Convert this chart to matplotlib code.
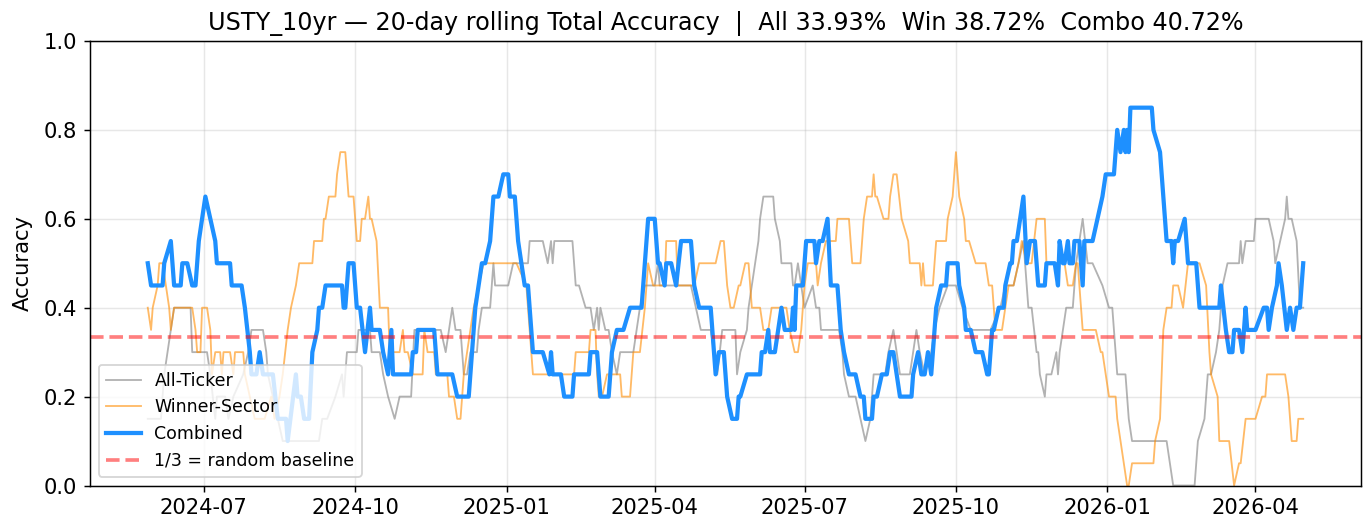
import matplotlib
matplotlib.use("Agg")
import matplotlib.pyplot as plt
import pandas as pd

ANCHOR = "2024-07-01"

# Combined (day offset from ANCHOR, value)
combo_day = [-34,-32,-25,-24,-20,-18,-14,-13,-10,-7,-5,-3,-1,1,4,7,8,16,17,23,25,28,29,32,34,36,42,45,50,51,56,57,59,61,64,66,69,70,72,74,84,85,86,88,91,93,95,98,101,102,107,109,112,114,115,126,127,129,130,140,142,151,154,161,165,167,169,171,174,176,179,182,185,186,189,191,193,195,197,200,206,210,211,212,217,219,224,225,234,235,239,241,246,248,251,255,259,266,270,274,276,277,280,281,284,287,290,296,298,301,308,311,313,316,318,321,324,325,326,330,338,339,341,343,344,347,349,351,353,357,358,359,360,364,366,371,372,374,376,379,381,385,387,389,392,396,399,401,402,406,407,409,412,415,417,419,423,430,431,434,436,438,440,442,445,448,451,452,458,459,462,463,466,469,473,476,477,479,480,483,486,487,490,491,492,494,496,498,500,502,505,507,511,512,517,519,520,522,523,525,526,528,529,532,534,535,540,543,546,548,553,554,555,557,559,560,561,562,563,576,577,581,585,588,589,590,592,596,598,603,605,617,618,621,623,625,626,629,631,633,634,639,644,646,647,649,652,653,655,658,660,662,664,666,668]
combo_val = [.5,.45,.45,.5,.55,.45,.45,.5,.5,.45,.45,.55,.6,.65,.6,.55,.5,.5,.45,.45,.4,.3,.25,.25,.3,.25,.25,.15,.15,.1,.25,.2,.2,.15,.15,.3,.35,.4,.4,.45,.45,.4,.4,.5,.5,.4,.4,.3,.4,.35,.35,.3,.25,.35,.25,.25,.3,.3,.35,.35,.25,.25,.2,.2,.4,.45,.5,.5,.55,.65,.65,.7,.7,.65,.65,.55,.5,.45,.45,.3,.3,.25,.3,.25,.25,.2,.2,.25,.25,.3,.3,.2,.2,.3,.35,.35,.4,.4,.6,.6,.5,.5,.45,.5,.5,.45,.55,.55,.45,.4,.4,.25,.3,.3,.2,.15,.15,.2,.2,.25,.25,.3,.3,.35,.3,.3,.35,.4,.35,.35,.4,.35,.45,.45,.55,.55,.5,.55,.55,.6,.45,.45,.35,.3,.25,.25,.2,.2,.15,.15,.2,.2,.25,.25,.3,.3,.2,.2,.25,.3,.25,.25,.3,.25,.4,.45,.45,.5,.5,.45,.4,.35,.35,.3,.3,.25,.25,.35,.35,.4,.4,.45,.5,.5,.55,.55,.6,.65,.5,.55,.55,.45,.45,.5,.5,.45,.55,.5,.5,.55,.5,.5,.55,.55,.45,.55,.55,.6,.65,.7,.7,.75,.8,.75,.8,.75,.8,.75,.85,.85,.8,.75,.55,.55,.5,.55,.55,.6,.5,.5,.4,.4,.45,.35,.3,.3,.35,.35,.3,.4,.35,.35,.4,.4,.35,.4,.45,.5,.45,.35,.4,.35,.4,.4,.5]

# Winner-Sector
win_day = [-34,-32,-31,-28,-27,-25,-23,-21,-20,-18,-7,-5,-4,-2,-1,2,4,5,7,10,11,12,16,18,19,24,25,28,31,37,41,43,46,48,51,53,56,58,66,67,72,73,74,76,80,81,83,86,88,91,93,95,96,98,100,101,102,105,107,112,113,119,121,122,124,127,133,134,136,140,141,148,149,152,154,156,158,160,162,164,167,170,190,196,200,225,226,234,235,238,239,240,242,245,253,254,259,261,265,268,270,273,280,281,287,288,298,301,311,314,316,318,320,322,325,326,329,331,333,338,340,343,345,354,356,359,361,363,365,367,372,373,375,378,384,385,392,394,399,401,403,406,407,408,409,413,416,417,419,421,424,428,429,435,436,437,438,443,445,451,452,455,457,459,462,463,465,469,475,477,479,481,485,487,489,492,495,497,500,503,506,511,512,523,525,528,530,531,533,534,542,545,546,550,554,555,557,559,561,562,564,577,578,581,583,585,588,589,592,595,598,605,609,611,612,616,617,623,626,629,630,633,639,643,645,646,657,659,661,664,665,668]
win_val = [.4,.35,.4,.45,.5,.5,.45,.4,.35,.4,.4,.35,.3,.3,.4,.4,.35,.25,.3,.3,.25,.3,.3,.25,.3,.3,.25,.2,.15,.15,.2,.15,.2,.25,.35,.4,.45,.5,.5,.55,.55,.6,.6,.65,.65,.7,.75,.75,.65,.65,.55,.55,.6,.6,.65,.6,.6,.55,.4,.4,.3,.3,.35,.3,.3,.25,.25,.35,.3,.3,.25,.25,.2,.2,.15,.15,.25,.3,.35,.4,.45,.5,.5,.45,.25,.25,.3,.3,.35,.35,.25,.2,.2,.25,.25,.2,.2,.3,.3,.4,.5,.45,.45,.55,.55,.45,.45,.5,.5,.55,.55,.45,.4,.4,.45,.45,.5,.5,.4,.4,.35,.35,.4,.4,.35,.3,.3,.35,.45,.5,.5,.45,.5,.55,.55,.6,.6,.5,.5,.6,.65,.65,.7,.65,.65,.6,.6,.65,.7,.7,.6,.55,.5,.5,.45,.5,.45,.45,.55,.55,.6,.65,.75,.65,.6,.55,.55,.5,.5,.45,.45,.35,.35,.4,.45,.45,.5,.55,.5,.5,.6,.6,.5,.5,.45,.45,.5,.5,.4,.35,.35,.3,.3,.2,.2,.15,.1,.05,0,0,.05,.05,.1,.15,.35,.4,.4,.45,.45,.4,.5,.5,.45,.3,.25,.2,.1,.1,0,.05,.05,.15,.15,.2,.2,.25,.25,.2,.1,.1,.15,.15]

# All-Ticker
all_day = [-34,-26,-24,-22,-20,-18,-8,-7,2,4,7,8,13,15,18,24,27,29,36,38,39,42,45,48,70,72,75,80,84,85,87,93,94,101,102,107,109,112,116,119,126,128,135,144,147,149,151,153,156,158,160,162,166,167,169,174,176,177,185,188,197,198,206,209,211,212,213,224,226,228,232,235,237,239,240,241,244,246,248,251,253,261,263,265,268,274,276,277,296,299,302,308,310,312,315,323,324,326,330,331,333,335,337,338,340,346,347,350,351,357,358,359,361,363,365,370,372,374,375,386,388,389,392,396,399,402,405,407,414,416,419,421,423,429,431,433,435,438,442,444,447,452,457,461,466,478,484,487,492,495,498,501,503,506,507,508,511,512,515,518,519,520,522,524,528,530,534,537,540,546,550,552,555,560,562,564,585,587,589,602,604,608,610,612,615,617,619,622,629,630,631,633,638,639,647,650,651,654,657,658,659,661,664,666,668]
all_val = [.15,.15,.25,.3,.35,.4,.4,.3,.3,.25,.15,.2,.2,.15,.2,.25,.3,.35,.35,.3,.25,.2,.15,.1,.1,.15,.15,.2,.25,.2,.3,.3,.35,.35,.3,.3,.25,.2,.15,.2,.2,.35,.35,.35,.3,.35,.4,.35,.35,.25,.25,.3,.3,.35,.4,.4,.5,.45,.45,.5,.5,.55,.55,.5,.55,.5,.55,.55,.45,.45,.4,.4,.35,.4,.35,.4,.35,.35,.3,.25,.3,.3,.35,.4,.45,.45,.5,.45,.45,.4,.35,.35,.3,.25,.35,.35,.25,.3,.35,.4,.45,.5,.55,.6,.65,.65,.6,.55,.5,.5,.45,.45,.5,.45,.4,.45,.4,.4,.35,.35,.3,.25,.2,.2,.15,.1,.15,.25,.25,.3,.35,.3,.25,.25,.3,.35,.3,.25,.3,.35,.4,.45,.45,.4,.35,.35,.4,.45,.45,.5,.55,.4,.4,.3,.3,.25,.2,.25,.25,.3,.25,.3,.35,.4,.4,.5,.6,.5,.5,.45,.4,.4,.25,.25,.15,.1,.1,.05,0,0,.1,.15,.25,.25,.3,.35,.45,.5,.5,.55,.5,.55,.55,.6,.6,.55,.5,.55,.6,.65,.6,.6,.55,.4,.4]

TITLE = "USTY_10yr — 20-day rolling Total Accuracy  |  All 33.93%  Win 38.72%  Combo 40.72%"
BASELINE = 1 / 3


def to_dates(days):
    return pd.Timestamp(ANCHOR) + pd.to_timedelta(days, unit="D")


W, H, DPI = 1371, 529, 132
fig = plt.figure(figsize=(W / DPI, H / DPI), dpi=DPI)
ax = fig.add_axes([90 / W, 1 - 485.5 / H, (1361 - 90) / W, (485.5 - 41) / H])

ax.plot(to_dates(all_day), all_val, color="gray", alpha=0.6, lw=1.0, label="All-Ticker")
ax.plot(to_dates(win_day), win_val, color="darkorange", alpha=0.6, lw=1.0, label="Winner-Sector")
ax.plot(to_dates(combo_day), combo_val, color="dodgerblue", lw=2.3, label="Combined")
ax.axhline(BASELINE, color="red", ls="--", alpha=0.5, lw=2.0, label="1/3 = random baseline")

ax.set_ylim(0, 1)
ax.set_ylabel("Accuracy", fontsize=11.5, labelpad=6)
ax.set_title(TITLE, fontsize=13)
ax.tick_params(labelsize=11.5)
ax.grid(True, alpha=0.3)
ax.legend(loc="lower left", fontsize=9.5)

fig.savefig("out.png", dpi=DPI)
